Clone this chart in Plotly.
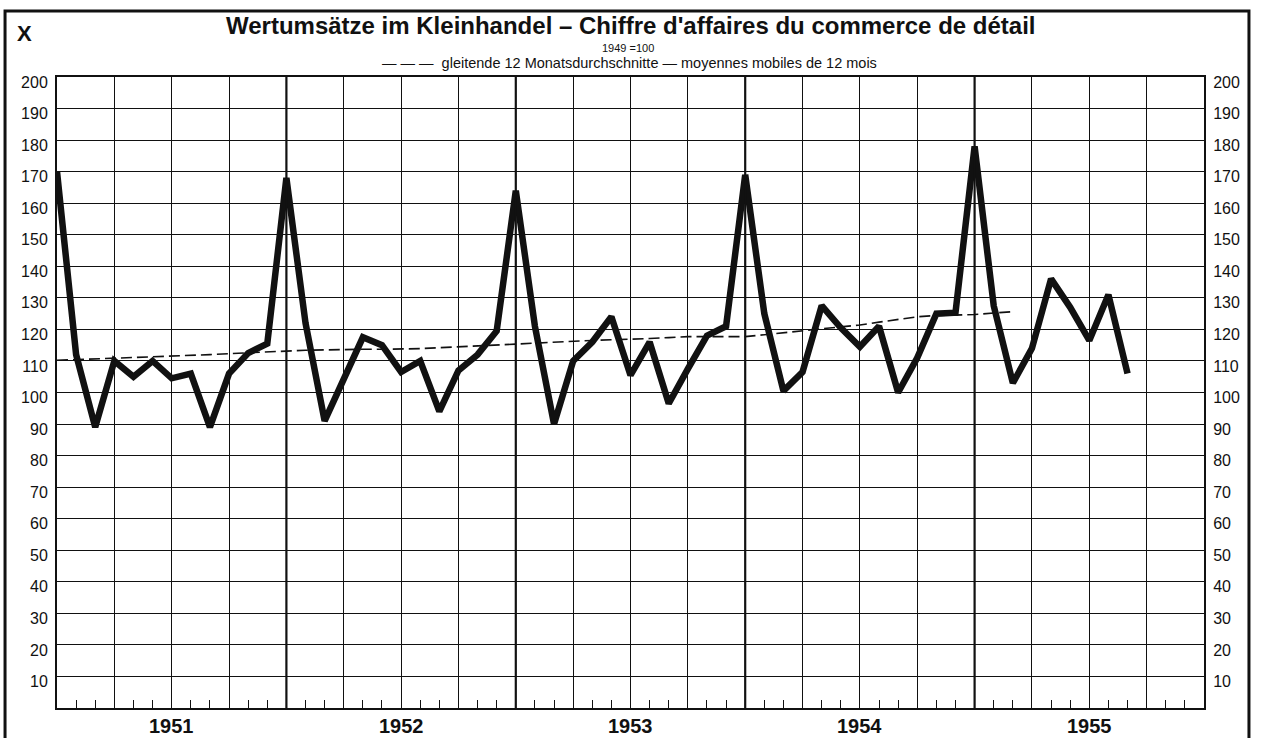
import plotly.graph_objects as go

# Monthly retail sales index (1949 = 100), Dec 1950 .. Aug 1955
sales = [
    170,
    112, 89, 110, 105, 110, 104.5, 106, 89, 106, 112.5, 115.5, 168,
    122, 91, 104, 117.5, 115, 106.5, 110, 94, 107, 112, 119.5, 164,
    121, 90, 110, 116, 124, 105.5, 116, 96.5, 107.5, 118, 121, 169,
    125, 100.5, 106.5, 127.5, 120.5, 114.5, 121, 100, 111, 125, 125.3, 178,
    127.5, 103, 114, 136, 127, 116.5, 131, 106,
]

# 12-month moving average, Dec 1950 .. Feb 1955
moving_avg = [
    110.2,
    110.4, 110.7, 111.0, 111.2, 111.4, 111.6, 111.8, 112.0, 112.3, 112.6, 112.9, 113.2,
    113.4, 113.5, 113.7, 113.7, 113.7, 113.7, 113.9, 114.2, 114.5, 114.8, 115.1, 115.5,
    115.8, 116.1, 116.3, 116.5, 116.7, 116.8, 117.1, 117.4, 117.7, 117.7, 117.7, 117.7,
    118.3, 119.0, 119.6, 120.2, 120.8, 121.4, 122.3, 123.2, 124.0, 124.4, 124.6, 124.7,
    125.2, 125.6,
]

years = ["1951", "1952", "1953", "1954", "1955"]
y_ticks = list(range(10, 201, 10))

title_text = "Wertumsätze im Kleinhandel – Chiffre d'affaires du commerce de détail"
base_text = "1949 =100"
legend_text = "— — —  gleitende 12 Monatsdurchschnitte — moyennes mobiles de 12 mois"

x_sales = list(range(len(sales)))
x_ma = list(range(len(moving_avg)))
n_months = 12 * len(years)

INK = "#111111"
FONT = "Liberation Sans, Arial, sans-serif"

fig = go.Figure()
fig.add_trace(go.Scatter(
    x=x_ma, y=moving_avg, mode="lines", yaxis="y2",
    line=dict(color=INK, width=1.6, dash="11px,5px"),
    hoverinfo="skip", showlegend=False,
))
fig.add_trace(go.Scatter(
    x=x_sales, y=sales, mode="lines",
    line=dict(color=INK, width=6.5),
    hoverinfo="skip", showlegend=False,
))

axis_y_common = dict(
    range=[0, 200], tickmode="array", tickvals=y_ticks,
    ticktext=[str(v) for v in y_ticks],
    tickfont=dict(family=FONT, size=16, color=INK),
    ticks="", zeroline=False, showline=True, linewidth=2, linecolor=INK,
    ticklabelstandoff=4, ticklabelshift=5,
)

shapes = []
for i in range(1, len(years)):
    shapes.append(dict(type="line", xref="x", yref="paper", x0=12 * i, x1=12 * i,
                       y0=0, y1=1, line=dict(color=INK, width=2.2), layer="above"))
# outer frame
shapes.append(dict(type="rect", xref="paper", yref="paper",
                   x0=-0.0453, x1=1.0392, y0=-0.06, y1=1.1045,
                   line=dict(color=INK, width=3)))

annotations = [
    dict(text=title_text, x=0.5, y=1.0815, xref="paper", yref="paper",
         showarrow=False, xanchor="center", yanchor="middle",
         font=dict(family=FONT, size=24, color=INK, weight="bold")),
    dict(text=base_text, x=0.498, y=1.0465, xref="paper", yref="paper",
         showarrow=False, xanchor="center", yanchor="middle",
         font=dict(family=FONT, size=11, color=INK)),
    dict(text=legend_text, x=0.4987, y=1.0215, xref="paper", yref="paper",
         showarrow=False, xanchor="center", yanchor="middle",
         font=dict(family=FONT, size=14.5, color=INK)),
    dict(text="X", x=-0.028, y=1.0697, xref="paper", yref="paper",
         showarrow=False, xanchor="center", yanchor="middle",
         font=dict(family=FONT, size=22, color=INK, weight="bold")),
]
for i, yl in enumerate(years):
    annotations.append(dict(text=yl, x=6 + 12 * i, y=0, xref="x", yref="y",
                            showarrow=False, xanchor="center", yanchor="top", yshift=-5,
                            font=dict(family=FONT, size=20, color=INK, weight="bold")))

fig.update_layout(
    width=1263, height=738,
    margin=dict(l=57, r=59, t=77, b=30),
    paper_bgcolor="white", plot_bgcolor="white",
    showlegend=False,
    xaxis=dict(
        range=[0, n_months], tick0=0, dtick=3, showticklabels=False,
        ticks="inside", ticklen=8, tickwidth=1, tickcolor=INK,
        showgrid=True, gridcolor=INK, gridwidth=1,
        minor=dict(dtick=1, tick0=0, ticks="inside", ticklen=8, tickwidth=1,
                   tickcolor=INK, showgrid=False),
        zeroline=False, showline=True, linewidth=2, linecolor=INK, mirror=True,
    ),
    yaxis=dict(side="left", showgrid=True, gridcolor=INK, gridwidth=1, **axis_y_common),
    yaxis2=dict(side="right", overlaying="y", showgrid=False, **axis_y_common),
    shapes=shapes,
    annotations=annotations,
)

fig.write_html("out.html", config={"displayModeBar": False},
               post_script="document.body.style.margin='0';")
